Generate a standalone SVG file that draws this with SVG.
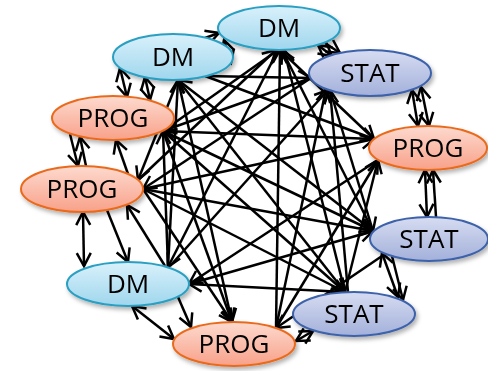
<svg xmlns="http://www.w3.org/2000/svg" width="488" height="371" viewBox="0 0 488 371">
<defs>
<linearGradient id="gDM" x1="0" y1="0" x2="0" y2="1"><stop offset="0" stop-color="#d9f1fb"/><stop offset="1" stop-color="#9fd6ed"/></linearGradient>
<linearGradient id="gST" x1="0" y1="0" x2="0" y2="1"><stop offset="0" stop-color="#d6dcf1"/><stop offset="1" stop-color="#a3b0da"/></linearGradient>
<linearGradient id="gPR" x1="0" y1="0" x2="0" y2="1"><stop offset="0" stop-color="#fddacf"/><stop offset="1" stop-color="#f8a189"/></linearGradient>
<filter id="sh" x="-20%" y="-30%" width="140%" height="170%"><feDropShadow dx="2" dy="3" stdDeviation="2" flood-color="#000" flood-opacity="0.3"/></filter>
<marker id="ah" markerUnits="userSpaceOnUse" markerWidth="20" markerHeight="20" refX="13" refY="7" orient="auto-start-reverse" overflow="visible"><path d="M0,0 L13,7 L0,14" fill="none" stroke="#000" stroke-width="2.5" stroke-linejoin="miter"/></marker>
</defs>
<style>
.e{stroke:#000;stroke-width:2.5;fill:none;marker-end:url(#ah)}
.d{stroke:#000;stroke-width:2.5;fill:none;marker-end:url(#ah);marker-start:url(#ah)}
.dm{fill:url(#gDM);stroke:#2a9fc1;stroke-width:2}
.st{fill:url(#gST);stroke:#3d62a9;stroke-width:2}
.pr{fill:url(#gPR);stroke:#ea6b1f;stroke-width:2}
text{font-family:"Open Sans","DejaVu Sans",sans-serif;font-size:26px;fill:#000;text-anchor:middle}
</style>
<rect width="488" height="371" fill="#fff"/>
<g id="connectors">
<line class="d" x1="224" y1="40" x2="231" y2="63"/>
<line class="e" x1="205" y1="38" x2="219" y2="33"/>
<line class="d" x1="318" y1="45" x2="332" y2="56"/>
<line class="e" x1="325" y1="43" x2="340" y2="53"/>
<line class="d" x1="412" y1="90" x2="418" y2="126"/>
<line class="d" x1="421" y1="87" x2="429" y2="126"/>
<line class="d" x1="425" y1="170" x2="427" y2="217"/>
<line class="e" x1="436" y1="217" x2="433" y2="170"/>
<line class="d" x1="382" y1="253" x2="398" y2="297"/>
<line class="e" x1="392" y1="256" x2="403" y2="300"/>
<line class="d" x1="296" y1="341" x2="313" y2="331"/>
<line class="d" x1="132" y1="306" x2="174" y2="339"/>
<line class="e" x1="178" y1="297" x2="191" y2="327"/>
<line class="d" x1="83" y1="212" x2="84" y2="266"/>
<line class="e" x1="107" y1="210" x2="128" y2="262"/>
<line class="e" x1="165" y1="266" x2="127" y2="205"/>
<line class="e" x1="70" y1="134" x2="78" y2="166"/>
<line class="e" x1="86" y1="166" x2="80" y2="137"/>
<line class="e" x1="128" y1="174" x2="116" y2="140"/>
<line class="d" x1="120" y1="68" x2="127" y2="97"/>
<line class="d" x1="145" y1="77" x2="150" y2="100"/>
<line class="e" x1="280" y1="50" x2="374" y2="139"/>
<line class="e" x1="373" y1="231" x2="282" y2="50"/>
<line class="e" x1="345" y1="292" x2="284" y2="50"/>
<line class="e" x1="276" y1="328" x2="280" y2="50"/>
<line class="e" x1="278" y1="50" x2="168" y2="267"/>
<line class="e" x1="138" y1="180" x2="276" y2="50"/>
<line class="e" x1="278" y1="50" x2="163" y2="131"/>
<line class="e" x1="330" y1="90" x2="373" y2="231"/>
<line class="e" x1="348" y1="292" x2="330" y2="90"/>
<line class="e" x1="276" y1="328" x2="326" y2="89"/>
<line class="e" x1="170" y1="266" x2="328" y2="90"/>
<line class="e" x1="311" y1="78" x2="143" y2="189"/>
<line class="e" x1="311" y1="78" x2="163" y2="131"/>
<line class="e" x1="205" y1="76" x2="311" y2="78"/>
<line class="e" x1="345" y1="292" x2="378" y2="160"/>
<line class="e" x1="276" y1="328" x2="378" y2="160"/>
<line class="e" x1="378" y1="160" x2="189" y2="284"/>
<line class="e" x1="143" y1="189" x2="374" y2="139"/>
<line class="e" x1="374" y1="139" x2="163" y2="131"/>
<line class="e" x1="205" y1="76" x2="374" y2="139"/>
<line class="e" x1="385" y1="254" x2="276" y2="328"/>
<line class="e" x1="189" y1="284" x2="373" y2="231"/>
<line class="e" x1="143" y1="189" x2="373" y2="231"/>
<line class="e" x1="163" y1="131" x2="373" y2="231"/>
<line class="e" x1="373" y1="231" x2="178" y2="80"/>
<line class="e" x1="345" y1="292" x2="189" y2="284"/>
<line class="e" x1="143" y1="189" x2="345" y2="292"/>
<line class="e" x1="163" y1="131" x2="345" y2="292"/>
<line class="e" x1="178" y1="80" x2="345" y2="292"/>
<line class="e" x1="143" y1="189" x2="232" y2="322"/>
<line class="e" x1="163" y1="131" x2="232" y2="322"/>
<line class="e" x1="178" y1="80" x2="232" y2="322"/>
<line class="e" x1="168" y1="267" x2="163" y2="131"/>
<line class="e" x1="168" y1="267" x2="178" y2="80"/>
<line class="e" x1="178" y1="80" x2="138" y2="180"/>
</g>
<g id="n-dm1" filter="url(#sh)"><ellipse class="dm" cx="279" cy="28" rx="61" ry="22"/><text x="279" y="37">DM</text></g>
<g id="n-dm2" filter="url(#sh)"><ellipse class="dm" cx="173" cy="57" rx="60" ry="23"/><text x="173" y="66">DM</text></g>
<g id="n-stat1" filter="url(#sh)"><ellipse class="st" cx="370" cy="73" rx="61" ry="23"/><text x="370" y="82">STAT</text></g>
<g id="n-prog1" filter="url(#sh)"><ellipse class="pr" cx="113" cy="118" rx="61" ry="22"/><text x="113" y="127">PROG</text></g>
<g id="n-prog2" filter="url(#sh)"><ellipse class="pr" cx="428" cy="148" rx="59" ry="22"/><text x="428" y="157">PROG</text></g>
<g id="n-prog3" filter="url(#sh)"><ellipse class="pr" cx="82" cy="189" rx="61" ry="23"/><text x="82" y="198">PROG</text></g>
<g id="n-stat2" filter="url(#sh)"><ellipse class="st" cx="429" cy="239" rx="59" ry="22"/><text x="429" y="248">STAT</text></g>
<g id="n-dm3" filter="url(#sh)"><ellipse class="dm" cx="128" cy="284" rx="61" ry="22"/><text x="128" y="293">DM</text></g>
<g id="n-stat3" filter="url(#sh)"><ellipse class="st" cx="354" cy="314" rx="61" ry="22"/><text x="354" y="323">STAT</text></g>
<g id="n-prog4" filter="url(#sh)"><ellipse class="pr" cx="234" cy="344" rx="61" ry="22"/><text x="234" y="353">PROG</text></g>
</svg>
